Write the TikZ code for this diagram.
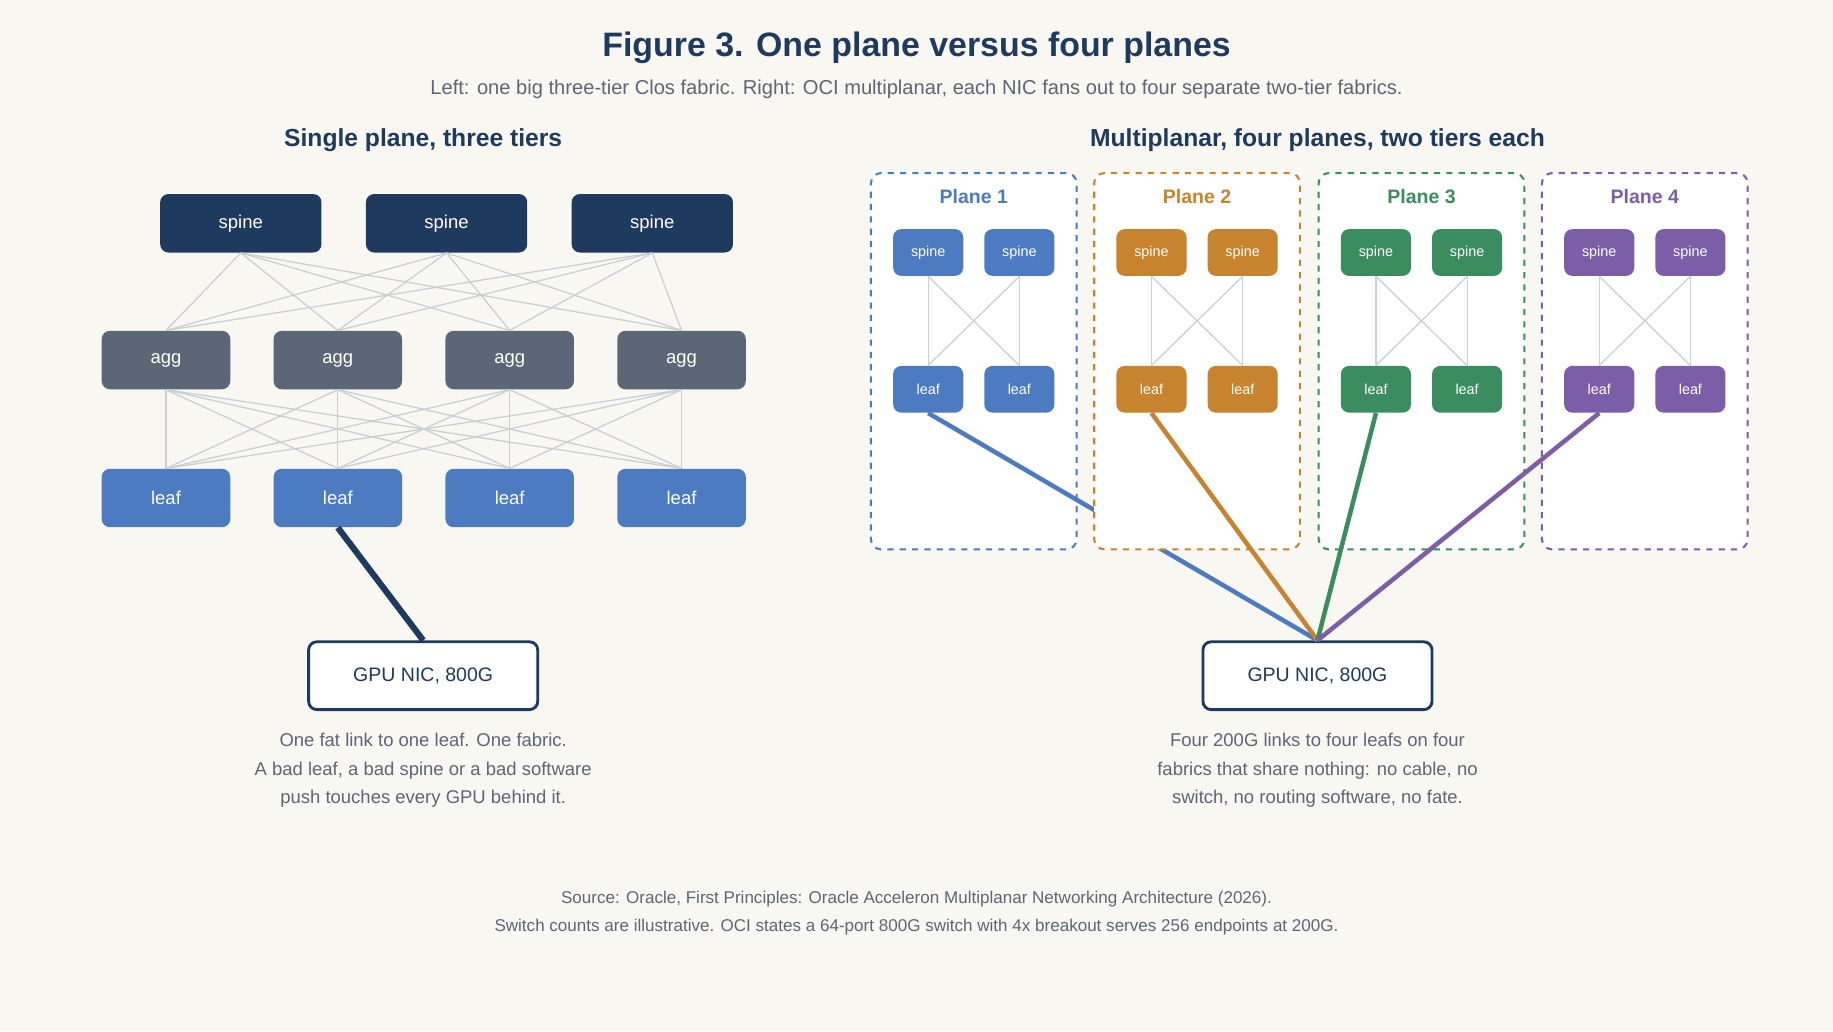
\documentclass[tikz,border=0pt]{standalone}
\usepackage{fontspec}
\setmainfont{Liberation Sans}
\usetikzlibrary{positioning}
\definecolor{navy}{HTML}{1F3A5F}
\definecolor{aggc}{HTML}{5B6676}
\definecolor{blu}{HTML}{4D7BC2}
\definecolor{org}{HTML}{C8832E}
\definecolor{grn}{HTML}{3B8C5E}
\definecolor{pur}{HTML}{7B5EA7}
\definecolor{txt}{HTML}{5E6673}
\definecolor{bg}{HTML}{F8F7F2}
\definecolor{wire}{HTML}{C9CDD4}
\tikzset{
  box/.style={rounded corners=4pt, text=white, font=\fontsize{9}{11}\selectfont},
  big/.style={box, minimum width=2.2cm, minimum height=1cm},
  small/.style={box, minimum width=1.2cm, minimum height=0.8cm, font=\fontsize{7}{9}\selectfont},
  nic/.style={draw=navy, line width=1.4pt, fill=white, rounded corners=4pt, minimum width=3.92cm, minimum height=1.16cm, text=navy, font=\fontsize{9.5}{11}\selectfont},
  plane/.style={draw, dashed, line width=1pt, fill=white, rounded corners=5pt, minimum width=3.52cm, minimum height=6.44cm},
  note/.style={text=txt, align=center, font=\fontsize{9}{14}\selectfont},
  head/.style={text=navy, font=\bfseries\fontsize{12}{14}\selectfont}
}
\begin{document}
\begin{tikzpicture}[x=0.02cm, y=-0.02cm]
  \fill[bg] (0,0) rectangle (1568,882);
  \node[text=navy, font=\bfseries\fontsize{16.5}{18}\selectfont] (title) at (784,41) {Figure 3. One plane versus four planes};
  \node[text=txt, font=\fontsize{9.8}{12}\selectfont] (sub) at (784,76) {Left: one big three-tier Clos fabric. Right: OCI multiplanar, each NIC fans out to four separate two-tier fabrics.};
  \node[head] (lh) at (362,120) {Single plane, three tiers};
  \node[head] (rh) at (1127,120) {Multiplanar, four planes, two tiers each};

  % single plane
  \foreach \i/\x in {1/206,2/382,3/558}
    \node[big, fill=navy, minimum width=2.76cm] (s\i) at (\x,191) {spine};
  \foreach \i/\x in {1/142,2/289,3/436,4/583} {
    \node[big, fill=aggc] (a\i) at (\x,308) {agg};
    \node[big, fill=blu] (l\i) at (\x,426) {leaf};
  }
  \foreach \i in {1,2,3}
    \foreach \j in {1,...,4}
      \draw[wire, line width=0.6pt] (s\i.south) -- (a\j.north);
  \foreach \i in {1,...,4}
    \foreach \j in {1,...,4}
      \draw[wire, line width=0.6pt] (a\i.south) -- (l\j.north);
  \node[nic] (nl) at (362,578) {GPU NIC, 800G};
  \draw[navy, line width=3pt] (l2.south) -- (nl.north);
  \node[note, below=0.25cm of nl] (tl) {One fat link to one leaf. One fabric.\\A bad leaf, a bad spine or a bad software\\push touches every GPU behind it.};

  % multiplanar
  \node[nic] (nr) at (1127,578) {GPU NIC, 800G};
  \foreach \p/\x/\c in {1/833/blu,2/1024/org,3/1216/grn,4/1407/pur} {
    \node[plane, draw=\c] (p\p) at (\x,309) {};
    \node[text=\c, font=\bfseries\fontsize{9.5}{11}\selectfont] (pt\p) at (\x,168) {Plane \p};
    \node[small, fill=\c] (ps\p a) at (\x-39,216) {spine};
    \node[small, fill=\c] (ps\p b) at (\x+39,216) {spine};
    \node[small, fill=\c] (pl\p a) at (\x-39,333) {leaf};
    \node[small, fill=\c] (pl\p b) at (\x+39,333) {leaf};
    \foreach \u in {a,b}
      \foreach \v in {a,b}
        \draw[wire, line width=0.6pt] (ps\p\u.south) -- (pl\p\v.north);
    \draw[\c, line width=2.2pt] (pl\p a.south) -- (nr.north);
  }
  \node[note, below=0.25cm of nr] (tr) {Four 200G links to four leafs on four\\fabrics that share nothing: no cable, no\\switch, no routing software, no fate.};

  \node[note, font=\fontsize{8.3}{14}\selectfont] (src) at (784,781) {Source: Oracle, First Principles: Oracle Acceleron Multiplanar Networking Architecture (2026).\\Switch counts are illustrative. OCI states a 64-port 800G switch with 4x breakout serves 256 endpoints at 200G.};
\end{tikzpicture}
\end{document}
